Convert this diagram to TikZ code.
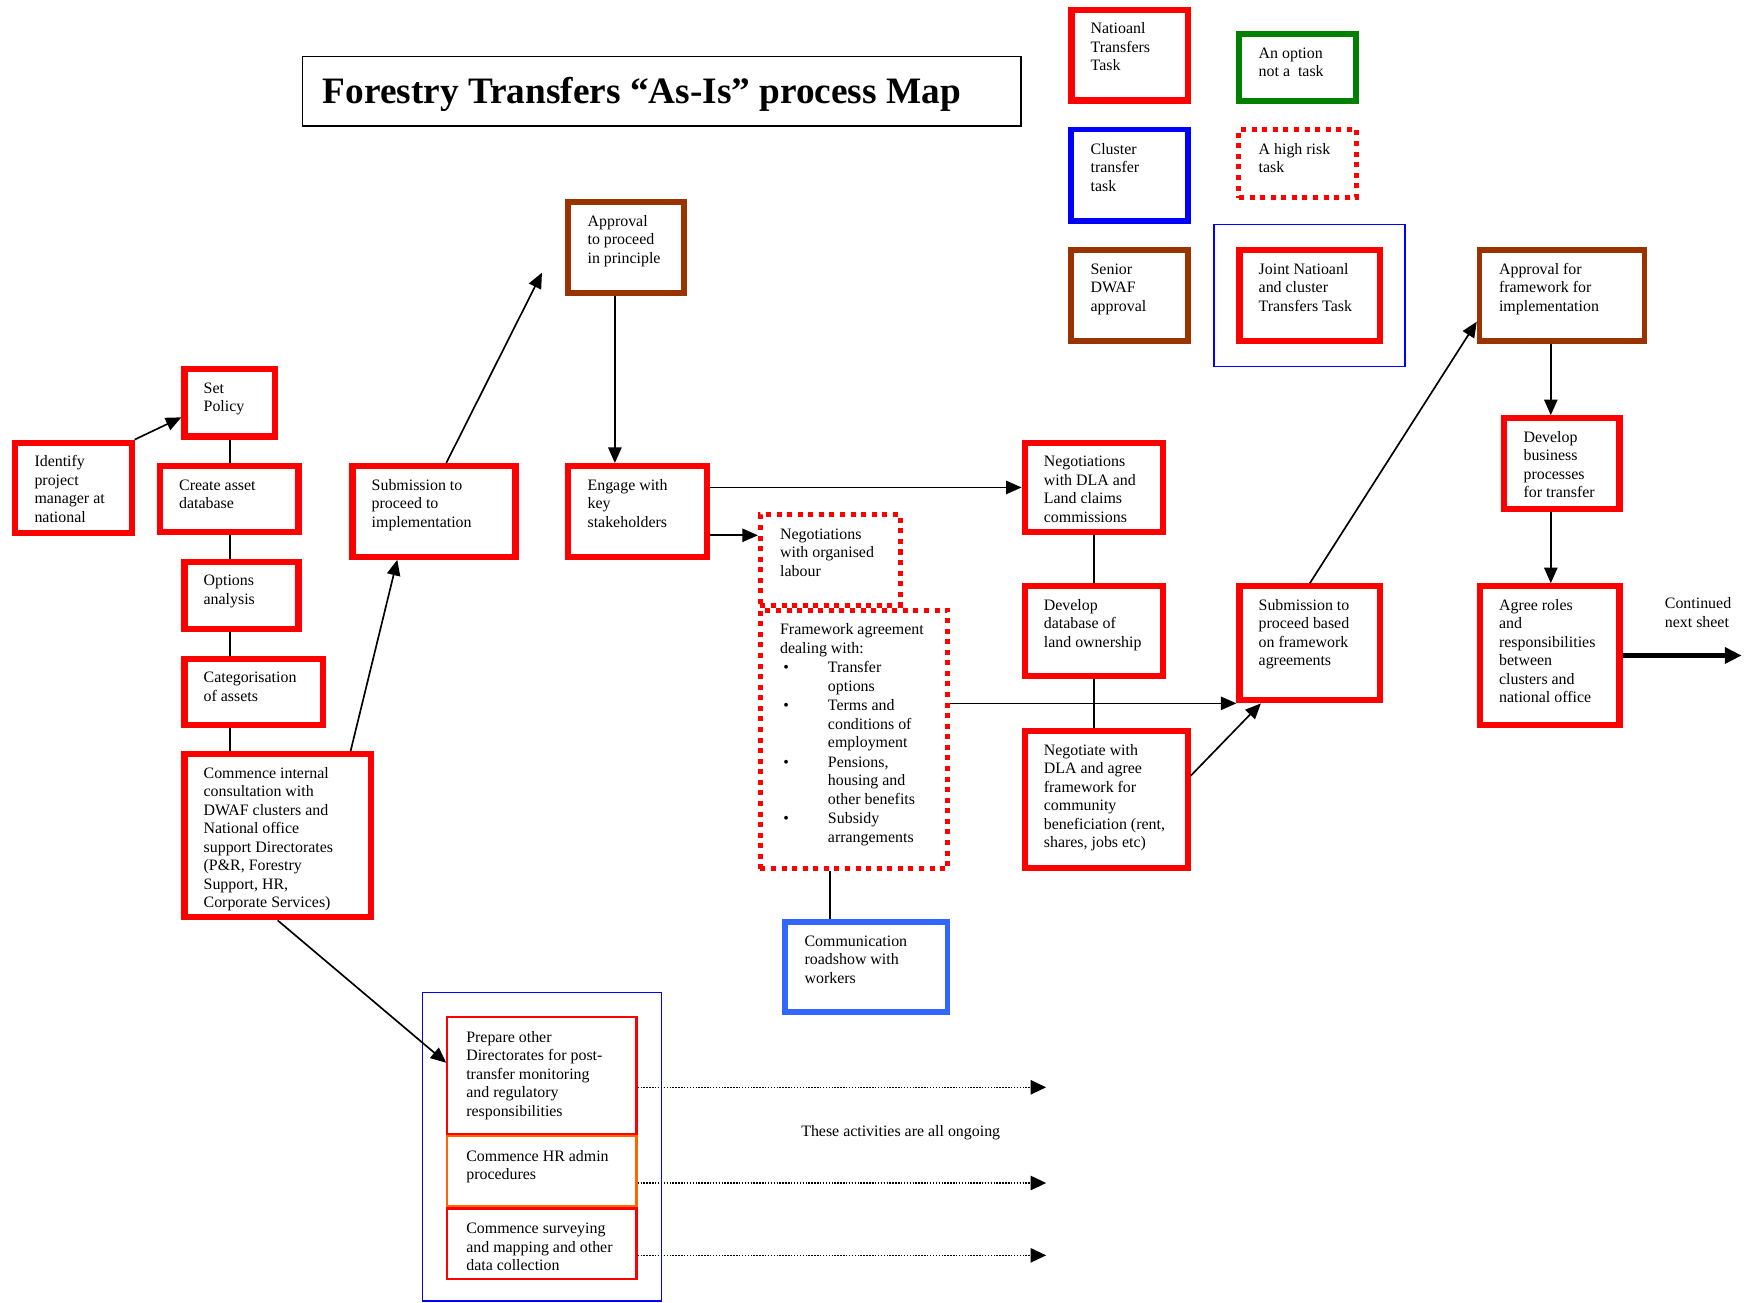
\documentclass[tikz,border=0pt]{standalone}
\usepackage{fontspec}
\setmainfont{Liberation Serif}
\usetikzlibrary{arrows.meta,calc}
\definecolor{bred}{HTML}{FF0000}
\definecolor{bbrown}{HTML}{993300}
\definecolor{bgreen}{HTML}{008000}
\definecolor{bblue}{HTML}{0000FF}
\definecolor{cblue}{HTML}{3366FF}
\definecolor{borange}{HTML}{FF6600}
\newcommand\fr[6]{\node[#1, anchor=north west, inner sep=0pt, minimum width={(#5)-(#3)-\pgflinewidth}, minimum height={(#6)-(#4)-\pgflinewidth}] (#2) at (#3,#4) {};}
\newcommand\bx[7]{\fr{#1}{#2}{#3}{#4}{#5}{#6}\node[txt, anchor=north west] (#2t) at ({#3+20},{#4+13.5}) {\rule{0pt}{11pt}#7};}
\newcommand\bxs[7]{\fr{#1}{#2}{#3}{#4}{#5}{#6}\node[txt, anchor=north west] (#2t) at ({#3+18},{#4+12.5}) {\rule{0pt}{11pt}#7};}
\newcommand\fwi[1]{\hspace*{3pt}\makebox[40pt][l]{\textbullet}#1}
\newcommand\fwc[1]{\hspace*{43pt}#1}
\begin{document}
\begin{tikzpicture}[x=1pt,y=-1pt,
  txt/.style={font=\fontsize{14.3}{16.6}\selectfont, align=left, inner sep=0pt, outer sep=0pt},
  natbox/.style={draw=bred, line width=5.5pt},
  brownbox/.style={draw=bbrown, line width=5pt},
  greenbox/.style={draw=bgreen, line width=5pt},
  bluebox/.style={draw=bblue, line width=5pt},
  commbox/.style={draw=cblue, line width=5pt},
  riskbox/.style={draw=bred, line width=4.5pt, dash pattern=on 4.5pt off 5pt},
  thinblue/.style={draw=bblue, line width=1.3pt},
  thinred/.style={draw=bred, line width=2pt},
  thinorange/.style={draw=borange, line width=2pt},
  titlebox/.style={draw=black, line width=1.5pt},
  conn/.style={line width=1.5pt},
  arr/.style={conn, -{Triangle[length=14pt,width=12pt]}},
  dotarr/.style={line width=1.3pt, dash pattern=on 1.3pt off 1.3pt, -{Triangle[length=14pt,width=13pt]}},
  thickarr/.style={line width=4pt, -{Triangle[length=15pt,width=14pt]}},
]
\useasboundingbox (0,0) rectangle (1568,1170.8);

% title
\fr{titlebox}{tbox}{271}{50}{918}{114}
\node[font=\bfseries\fontsize{33.5}{40}\selectfont, anchor=base west, inner sep=0pt] (title) at (290,93) {Forestry Transfers “As-Is” process Map};

% legend
\bx{natbox}{lgnat}{960}{6}{1070}{93}{Natioanl\\Transfers\\Task}
\bx{greenbox}{lgopt}{1111}{28}{1221}{93}{An option\\not a~ task}
\bx{bluebox}{lgclu}{960}{114}{1070}{201}{Cluster\\transfer\\task}
\bx{riskbox}{lgrisk}{1111}{114}{1221}{180}{A high risk\\task}
\bx{brownbox}{lgsen}{960}{222}{1070}{309}{Senior\\DWAF\\approval}
\fr{thinblue}{lgjointo}{1090}{201}{1263}{330}
\bx{natbox}{lgjoint}{1111}{222}{1243}{309}{Joint Natioanl\\and cluster\\Transfers Task}

% process boxes
\bx{brownbox}{apprf}{1327}{222}{1480}{309}{Approval for\\framework for\\implementation}
\bx{natbox}{setp}{163}{329}{250}{395}{Set\\Policy}
\bx{natbox}{ident}{11}{395}{121}{482}{Identify\\project\\manager at\\national}
\bx{natbox}{create}{141}{416}{271}{481}{Create asset\\database}
\bx{natbox}{opts}{163}{502}{271}{568}{Options\\analysis}
\bx{natbox}{categ}{163}{589}{293}{654}{Categorisation\\of assets}
\bx{natbox}{consult}{163}{675}{336}{827}{Commence internal\\consultation with\\DWAF clusters and\\National office\\support Directorates\\(P\&R, Forestry\\Support, HR,\\Corporate Services)}
\bx{natbox}{subimp}{314}{416}{466}{503}{Submission to\\proceed to\\implementation}
\bx{brownbox}{apprp}{508}{179}{617}{266}{Approval\\to proceed\\in principle}
\bx{natbox}{engage}{508}{416}{638}{503}{Engage with\\key\\stakeholders}
\bx{riskbox}{labour}{681}{460}{811}{546}{Negotiations\\with organised\\labour}
\bx{riskbox}{frame}{681}{546}{854}{783}{Framework agreement\\dealing with:\\[0.9pt]\fwi{Transfer}\\\fwc{options}\\[0.9pt]\fwi{Terms and}\\\fwc{conditions of}\\\fwc{employment}\\[0.9pt]\fwi{Pensions,}\\\fwc{housing and}\\\fwc{other benefits}\\[0.9pt]\fwi{Subsidy}\\\fwc{arrangements}}
\bx{commbox}{comm}{703}{826}{854}{912}{Communication\\roadshow with\\workers}
\bx{natbox}{negdla}{918}{395}{1048}{481}{Negotiations\\with DLA and\\Land claims\\commissions}
\bx{natbox}{devdb}{918}{524}{1048}{610}{Develop\\database of\\land ownership}
\bx{natbox}{negot}{918}{654}{1070}{783}{Negotiate with\\DLA and agree\\framework for\\community\\beneficiation (rent,\\shares, jobs etc)}
\bx{natbox}{subb}{1111}{524}{1243}{632}{Submission to\\proceed based\\on framework\\agreements}
\bx{natbox}{devbiz}{1349}{373}{1458}{460}{Develop\\business\\processes\\for transfer}
\bx{natbox}{agree}{1327}{524}{1458}{654}{Agree roles\\and\\responsibilities\\between\\clusters and\\national office}

% ongoing group
\fr{thinblue}{ongo}{379}{891}{595}{1169.5}
\bxs{thinred}{prep}{401}{913}{573}{1020}{Prepare other\\Directorates for post-\\transfer monitoring\\and regulatory\\responsibilities}
\bxs{thinorange}{hradm}{401}{1020}{573}{1085}{Commence HR admin\\procedures}
\bxs{thinred}{survey}{401}{1085}{573}{1150}{Commence surveying\\and mapping and other\\data collection}
\node[txt, anchor=base west] (ongoing) at (720,1021) {These activities are all ongoing};
\node[txt, anchor=north west] (cont) at (1496,536) {\rule{0pt}{11pt}Continued\\next sheet};

% connectors
\draw[arr] (ident.north east) -- ([yshift=-13pt]setp.west);
\draw[conn] (setp.south) -- (setp.south |- create.north);
\draw[conn] (setp.south |- create.south) -- (setp.south |- opts.north);
\draw[conn] (setp.south |- opts.south) -- (setp.south |- categ.north);
\draw[conn] (setp.south |- categ.south) -- (setp.south |- consult.north);
\draw[arr] ([xshift=65.5pt]consult.north) -- ([xshift=-33pt]subimp.south);
\coordinate (free1) at (487,245);
\draw[arr] ([xshift=11pt]subimp.north) -- (free1);
\draw[arr] ([xshift=-10pt]apprp.south) -- ([xshift=-10pt]apprp.south |- engage.north);
\draw[arr] (engage.east |- negdla.west) -- (negdla.west);
\draw[arr] ([yshift=-21.5pt]engage.east) -- ([yshift=-21.5pt]engage.east -| labour.west);
\draw[conn] (negdla.south) -- (devdb.north);
\draw[conn] (devdb.south) -- (devdb.south |- negot.north);
\draw[arr] (frame.east |- subb.south) -- (subb.south west);
\draw[arr] ([yshift=-43pt]negot.north east) -- ([xshift=22pt]subb.south west);
\draw[arr] (subb.north) -- ([yshift=20pt]apprf.south west);
\draw[arr] ([xshift=-10pt]apprf.south) -- ([xshift=-10pt]apprf.south |- devbiz.north);
\draw[arr] ([xshift=-10pt]apprf.south |- devbiz.south) -- ([xshift=-10pt]apprf.south |- agree.north);
\coordinate (contend) at (1565,589);
\draw[thickarr] (agree.east) -- (contend);
\draw[conn] ([xshift=-32.5pt]comm.north) -- ([xshift=-32.5pt]comm.north |- frame.south);
\draw[arr] (consult.south) -- ([yshift=11.5pt]prep.west);
\coordinate (d1) at (940,977);
\coordinate (d2) at (940,1063);
\coordinate (d3) at (940,1128);
\draw[dotarr] ([yshift=-10.5pt]prep.east) -- (d1);
\draw[dotarr] ([yshift=-10.5pt]hradm.east) -- (d2);
\draw[dotarr] ([yshift=-10.5pt]survey.east) -- (d3);
\end{tikzpicture}
\end{document}
